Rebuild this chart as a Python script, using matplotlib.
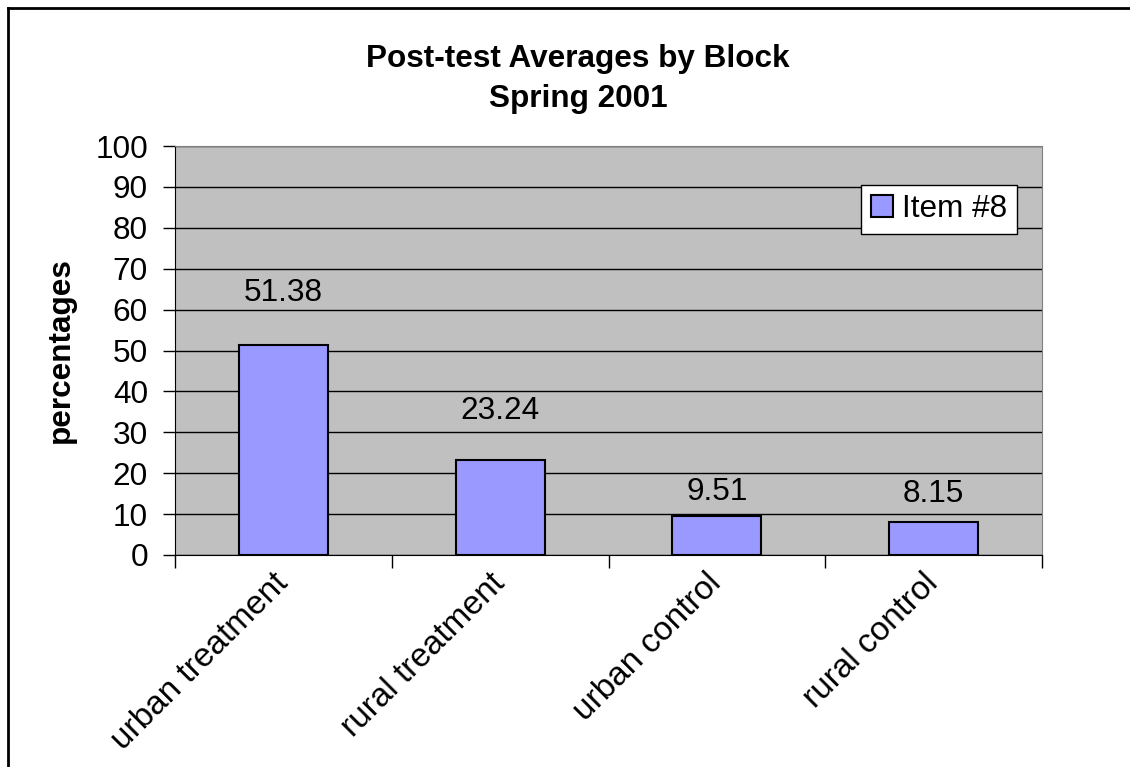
import numpy as np
import matplotlib.pyplot as plt
from matplotlib.lines import Line2D

# chart data
categories = ['urban treatment', 'rural treatment', 'urban control', 'rural control']
item8 = [51.38, 23.24, 9.51, 8.15]
y_ticks = [0, 10, 20, 30, 40, 50, 60, 70, 80, 90, 100]

# label offsets above the bars (points), as in the original layout
label_offsets = [37, 35, 17, 20]

plt.rcParams['font.family'] = ['Liberation Sans', 'DejaVu Sans']
FS = 22.7

fig = plt.figure(figsize=(11.3, 7.67), dpi=100)
ax = fig.add_axes([175 / 1130, 1 - 555 / 767, (1042 - 175) / 1130, (555 - 146) / 767])

ax.set_facecolor('#C0C0C0')
x = np.arange(len(categories))
bars = ax.bar(x, item8, width=0.41, color='#9999FF', edgecolor='black',
              linewidth=1.5, label='Item #8', zorder=3)

for xi, v, off in zip(x, item8, label_offsets):
    ax.annotate(f'{v:.2f}', (xi, v), xytext=(0, off), textcoords='offset points',
                ha='center', va='center', fontsize=FS)

ax.set_xlim(-0.5, len(categories) - 0.5)
ax.set_ylim(0, 100)
ax.set_yticks(y_ticks)
ax.tick_params(axis='y', labelsize=FS, length=9, width=1, direction='out', pad=10.5)
ax.yaxis.grid(True, color='black', linewidth=1, zorder=0)
ax.set_axisbelow(True)

# category boundaries carry the ticks, names sit at the centres
ax.set_xticks(np.arange(-0.5, len(categories), 1.0))
ax.set_xticklabels([])
ax.tick_params(axis='x', which='major', length=9, width=1, direction='out')
ax.set_xticks(x, minor=True)
ax.set_xticklabels(categories, minor=True, rotation=45, ha='right', va='center',
                   rotation_mode='anchor', fontsize=24)
ax.tick_params(axis='x', which='minor', length=0, pad=17)

ax.spines['top'].set_color('#808080')
ax.spines['right'].set_color('#808080')
ax.spines['left'].set_color('black')
ax.spines['bottom'].set_color('black')

ax.set_ylabel('percentages', fontsize=FS, fontweight='bold', labelpad=14)

fig.text(578 / 1130, 1 - 79 / 767, 'Post-test Averages by Block\nSpring 2001',
         ha='center', va='center', fontsize=FS, fontweight='bold', linespacing=1.42)

leg = ax.legend(loc='upper right', bbox_to_anchor=((1017 - 175) / 867, 1 - (185 - 146) / 409),
                fontsize=FS, frameon=True, fancybox=False, borderpad=0.3,
                handlelength=0.7, handleheight=0.7, handletextpad=0.3, borderaxespad=0)
leg.get_frame().set_edgecolor('black')
leg.get_frame().set_linewidth(1)
leg.get_frame().set_facecolor('white')
leg.get_frame().set_alpha(1)

# outer chart border (only left and top show in the reference)
fig.add_artist(Line2D([8 / 1130, 8 / 1130], [0, 1 - 8 / 767], color='black', linewidth=2))
fig.add_artist(Line2D([8 / 1130, 1], [1 - 8 / 767, 1 - 8 / 767], color='black', linewidth=2))

fig.savefig('out.png', dpi=100)
